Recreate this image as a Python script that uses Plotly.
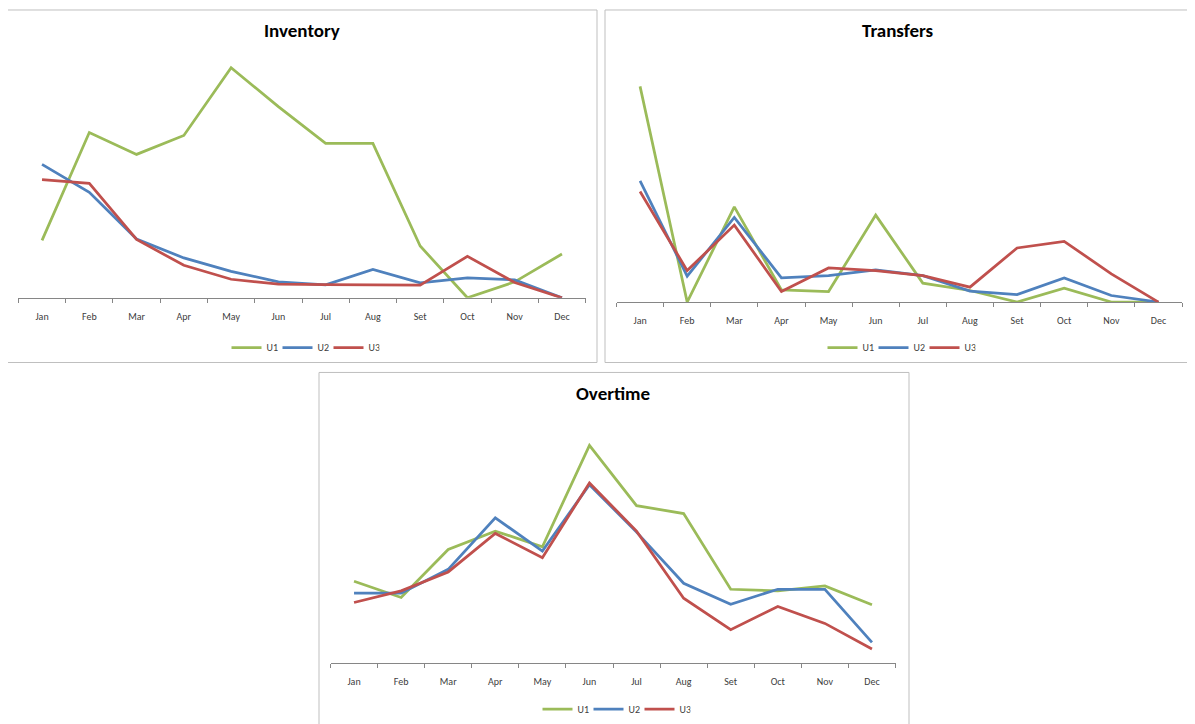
import plotly.graph_objects as go

months = ["Jan", "Feb", "Mar", "Apr", "May", "Jun", "Jul", "Aug", "Set", "Oct", "Nov", "Dec"]
series_names = ["U1", "U2", "U3"]

inventory_u1 = [57.7, 166, 144, 163, 231, 192, 155, 155, 52, 0, 16, 44]
inventory_u2 = [134, 106, 59, 40, 26.5, 16, 13, 28.5, 15, 20, 18, 0]
inventory_u3 = [118.6, 115, 58.6, 32.6, 18.6, 13.6, 13.3, 12.6, 12.6, 41.6, 15.3, 0]

transfers_u1 = [216.6, 0, 95.6, 12.3, 10.6, 87.3, 19, 11.6, 0, 14, 0, 0]
transfers_u2 = [121.6, 26, 85, 24.3, 26.6, 32.3, 26.6, 11, 7.6, 24.3, 6.6, 0]
transfers_u3 = [111, 31.6, 77.3, 10.6, 34.3, 31.6, 26.6, 15, 54.3, 61, 28.3, 0]

overtime_u1 = [82.3, 66, 114.3, 132.7, 117, 218.7, 158.3, 150.3, 74.3, 72.7, 77.7, 58.7]
overtime_u2 = [70.3, 70.3, 94.3, 146, 112.7, 179.3, 131.7, 80.3, 59.3, 74.3, 74.3, 21]
overtime_u3 = [61, 72.7, 91.7, 130.3, 106, 181, 132.7, 65.3, 33.7, 57, 40, 14.3]

colors = ["#9BBB59", "#4F81BD", "#C0504D"]
FONT = "Carlito, Calibri, Lato, sans-serif"

# the page body has an 8px margin, so the figure is placed at (8, 8)
OFF = 8
W, H = 1195 - OFF, 724 - OFF

def px(x):
    return (x - OFF) / W

def py(y):
    return 1 - (y - OFF) / H

panels = [
    dict(title="Inventory", data=[inventory_u1, inventory_u2, inventory_u3],
         box=(7, 10, 597, 364), xd=(18.4, 585.6), axis_y=299, top_y=50,
         title_xy=(302, 31), legend_xy=(303, 349)),
    dict(title="Transfers", data=[transfers_u1, transfers_u2, transfers_u3],
         box=(605, 10, 1190, 364), xd=(616.5, 1182), axis_y=303.3, top_y=54,
         title_xy=(898, 31), legend_xy=(899, 349)),
    dict(title="Overtime", data=[overtime_u1, overtime_u2, overtime_u3],
         box=(319, 374, 909, 740), xd=(330.5, 895.5), axis_y=666, top_y=416,
         title_xy=(613, 395), legend_xy=(614, 712)),
]

fig = go.Figure()
layout = dict(
    width=W, height=H, margin=dict(l=0, r=0, t=0, b=0),
    paper_bgcolor="white", plot_bgcolor="white",
    font=dict(family=FONT, color="#404040"),
    shapes=[], annotations=[],
)

for i, p in enumerate(panels):
    k = "" if i == 0 else str(i + 1)
    legend_name = "legend" + k
    for j, vals in enumerate(p["data"]):
        fig.add_trace(go.Scatter(
            x=months, y=vals, mode="lines", name=series_names[j],
            line=dict(color=colors[j], width=2.75),
            xaxis="x" + k, yaxis="y" + k, legend=legend_name,
        ))
    layout["xaxis" + k] = dict(
        domain=[px(p["xd"][0]), px(p["xd"][1])],
        anchor="y" + k, type="category", categoryorder="array", categoryarray=months,
        range=[-0.5, 11.5], tickson="boundaries", ticks="outside", ticklen=4,
        tickcolor="#868686", showline=True, linecolor="#868686", linewidth=1,
        showgrid=False, zeroline=False, fixedrange=True, ticklabelstandoff=9,
        tickfont=dict(size=10, color="#404040", family=FONT),
    )
    layout["yaxis" + k] = dict(
        domain=[py(p["axis_y"]), py(p["top_y"])],
        anchor="x" + k, range=[0, p["axis_y"] - p["top_y"]],
        visible=False, showgrid=False, zeroline=False, fixedrange=True,
    )
    layout[legend_name] = dict(
        orientation="h", x=px(p["legend_xy"][0]), y=py(p["legend_xy"][1]),
        xanchor="center", yanchor="middle", bgcolor="rgba(0,0,0,0)",
        font=dict(size=10, color="#404040", family=FONT),
        itemwidth=30, tracegroupgap=0, entrywidth=6,
    )
    x0, y0, x1, y1 = p["box"]
    layout["shapes"].append(dict(
        type="rect", xref="paper", yref="paper",
        x0=px(x0), x1=px(x1), y0=py(y1), y1=py(y0),
        line=dict(color="#BFBFBF", width=1), fillcolor="rgba(0,0,0,0)", layer="below",
    ))
    layout["annotations"].append(dict(
        text="<b>%s</b>" % p["title"], xref="paper", yref="paper",
        x=px(p["title_xy"][0]), y=py(p["title_xy"][1]),
        xanchor="center", yanchor="middle", showarrow=False,
        font=dict(size=19, color="black", family=FONT),
    ))

fig.update_layout(**layout)
fig.write_html("out.html")
